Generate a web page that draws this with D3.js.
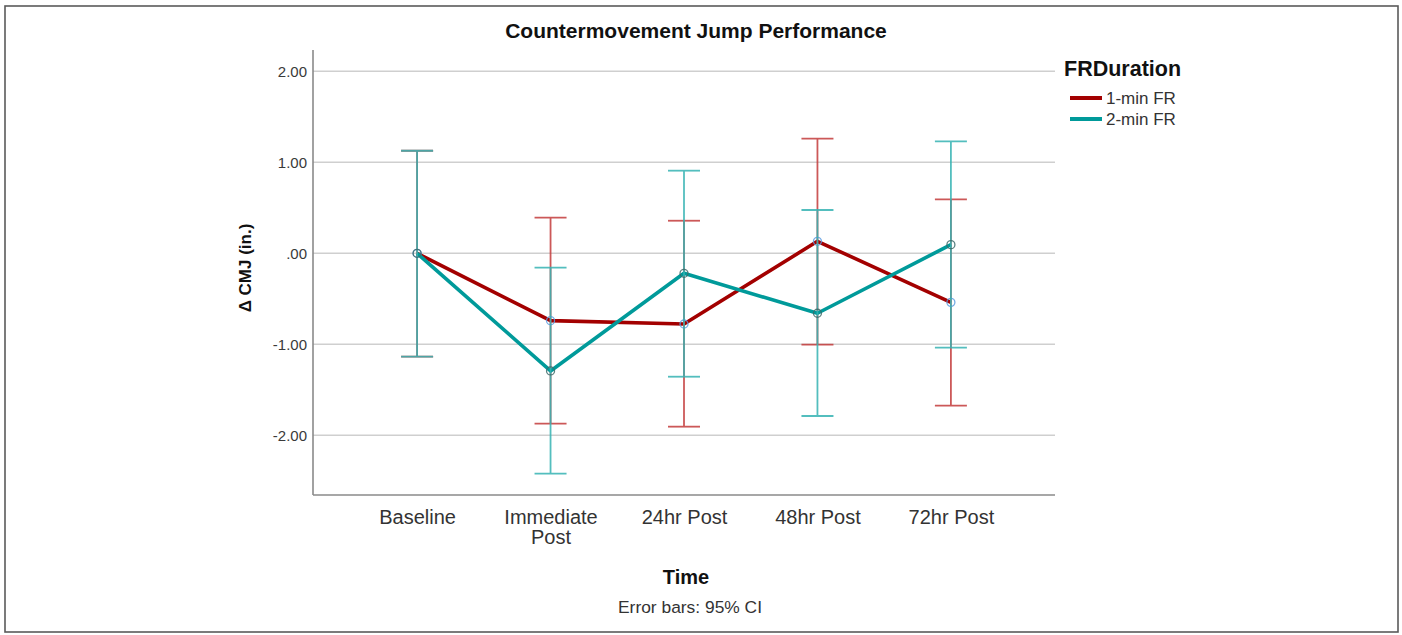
<!DOCTYPE html>
<html>
<head>
<meta charset="utf-8">
<script src="https://cdn.jsdelivr.net/npm/d3@7"></script>
<style>
  html, body { margin: 0; padding: 0; background: #fff; }
  svg { display: block; font-family: "Liberation Sans", Arial, sans-serif; }
</style>
</head>
<body>
<svg id="chart" width="1402" height="635"></svg>
<script>
// ---- data ----
const categories = ["Baseline", "Immediate Post", "24hr Post", "48hr Post", "72hr Post"];
const seriesNames = ["1-min FR", "2-min FR"];
const mean1 = [0, -0.74, -0.777, 0.132, -0.539];
const low1  = [-1.136, -1.872, -1.905, -1.004, -1.674];
const high1 = [1.127, 0.391, 0.358, 1.260, 0.593];
const mean2 = [0, -1.293, -0.220, -0.659, 0.095];
const low2  = [-1.136, -2.422, -1.356, -1.788, -1.037];
const high2 = [1.127, -0.158, 0.908, 0.476, 1.231];
const yTickValues = [2, 1, 0, -1, -2];
const yTickLabels = ["2.00", "1.00", ".00", "-1.00", "-2.00"];

(function () {
// ---- layout ----
const svg = d3.select("#chart");
const pLeft = 313, pRight = 1055, pTop = 50, pBottom = 495;

const x = d3.scalePoint().domain(categories).range([pLeft, pRight]).padding(0.78);
const y = d3.scaleLinear().domain([-2.656, 2.234]).range([pBottom, pTop]);

svg.append("rect").attr("width", 1402).attr("height", 635).attr("fill", "#fff");
svg.append("rect").attr("x", 5).attr("y", 6).attr("width", 1393).attr("height", 626)
  .attr("fill", "none").attr("stroke", "#5a5a5a").attr("stroke-width", 1.6);

// gridlines
svg.append("g").selectAll("line").data(yTickValues).join("line")
  .attr("x1", pLeft).attr("x2", pRight)
  .attr("y1", d => y(d)).attr("y2", d => y(d))
  .attr("stroke", "#cfcfcf").attr("stroke-width", 1.6);

// y axis
const yAxis = svg.append("g").attr("transform", `translate(${pLeft},0)`)
  .call(d3.axisLeft(y).tickValues(yTickValues)
    .tickFormat(d => yTickLabels[yTickValues.indexOf(d)])
    .tickSize(0).tickPadding(6));
yAxis.select(".domain").remove();
yAxis.selectAll("text").attr("font-size", 15).attr("fill", "#3a3a3a")
  .attr("font-family", "Liberation Sans, Arial, sans-serif");
svg.append("line").attr("x1", pLeft).attr("x2", pLeft).attr("y1", pTop).attr("y2", pBottom)
  .attr("stroke", "#8a8a8a").attr("stroke-width", 1.6);

// x axis
const xAxis = svg.append("g").attr("transform", `translate(0,${pBottom})`)
  .call(d3.axisBottom(x).tickSize(0).tickPadding(0));
xAxis.select(".domain").remove();
xAxis.selectAll("text").each(function(d) {
  const t = d3.select(this);
  t.text(null).attr("font-size", 20).attr("fill", "#333")
    .attr("font-family", "Liberation Sans, Arial, sans-serif")
    .attr("y", 0).attr("dy", null);
  const words = d === "Immediate Post" ? ["Immediate", "Post"] : [d];
  words.forEach((w, i) => {
    t.append("tspan").attr("x", 0).attr("y", 29 + i * 20).text(w);
  });
});
svg.append("line").attr("x1", pLeft).attr("x2", pRight).attr("y1", pBottom).attr("y2", pBottom)
  .attr("stroke", "#8a8a8a").attr("stroke-width", 1.6);

// series
const series = [
  { name: seriesNames[0], mean: mean1, low: low1, high: high1, line: "#a30000", err: "#c43c3c", mark: "#5c9be0" },
  { name: seriesNames[1], mean: mean2, low: low2, high: high2, line: "#009a9a", err: "#36b3b3", mark: "#3d6a6a" }
];
const line = d3.line().x(d => x(d.c)).y(d => y(d.v));
const capW = 16;

series.forEach(s => {
  const pts = categories.map((c, i) => ({ c, v: s.mean[i], lo: s.low[i], hi: s.high[i] }));
  const g = svg.append("g");
  g.append("path").datum(pts).attr("d", line).attr("fill", "none")
    .attr("stroke", s.line).attr("stroke-width", 3.6).attr("stroke-linejoin", "round");
  const eb = g.append("g").attr("stroke", s.err).attr("stroke-width", 1.8).attr("opacity", 0.85);
  eb.selectAll(".v").data(pts).join("line").attr("class", "v")
    .attr("x1", d => x(d.c)).attr("x2", d => x(d.c)).attr("y1", d => y(d.lo)).attr("y2", d => y(d.hi));
  eb.selectAll(".t").data(pts).join("line").attr("class", "t")
    .attr("x1", d => x(d.c) - capW).attr("x2", d => x(d.c) + capW).attr("y1", d => y(d.hi)).attr("y2", d => y(d.hi));
  eb.selectAll(".b").data(pts).join("line").attr("class", "b")
    .attr("x1", d => x(d.c) - capW).attr("x2", d => x(d.c) + capW).attr("y1", d => y(d.lo)).attr("y2", d => y(d.lo));
  g.selectAll("circle").data(pts).join("circle")
    .attr("cx", d => x(d.c)).attr("cy", d => y(d.v)).attr("r", 4)
    .attr("fill", "none").attr("stroke", s.mark).attr("stroke-width", 1.3).attr("opacity", 0.85);
});

// title
svg.append("text").attr("x", 696).attr("y", 38).attr("text-anchor", "middle")
  .attr("font-size", 21).attr("font-weight", "bold").attr("fill", "#111")
  .text("Countermovement Jump Performance");

// y axis title
svg.append("text").attr("transform", `translate(251,268) rotate(-90)`)
  .attr("text-anchor", "middle").attr("font-size", 17).attr("font-weight", "bold").attr("fill", "#111")
  .text("\u0394 CMJ (in.)");

// x axis title
svg.append("text").attr("x", 686).attr("y", 584).attr("text-anchor", "middle")
  .attr("font-size", 20).attr("font-weight", "bold").attr("fill", "#111").text("Time");

// footnote
svg.append("text").attr("x", 690).attr("y", 613).attr("text-anchor", "middle")
  .attr("font-size", 17.4).attr("fill", "#333").text("Error bars: 95% CI");

// legend
const lg = svg.append("g");
lg.append("text").attr("x", 1064).attr("y", 76).attr("font-size", 21.5).attr("font-weight", "bold")
  .attr("fill", "#111").text("FRDuration");
series.forEach((s, i) => {
  const yy = 98 + i * 21;
  lg.append("line").attr("x1", 1070).attr("x2", 1102).attr("y1", yy).attr("y2", yy)
    .attr("stroke", s.line).attr("stroke-width", 4);
  lg.append("text").attr("x", 1106).attr("y", yy + 6).attr("font-size", 17).attr("fill", "#333").text(s.name);
});
})();
</script>
</body>
</html>
